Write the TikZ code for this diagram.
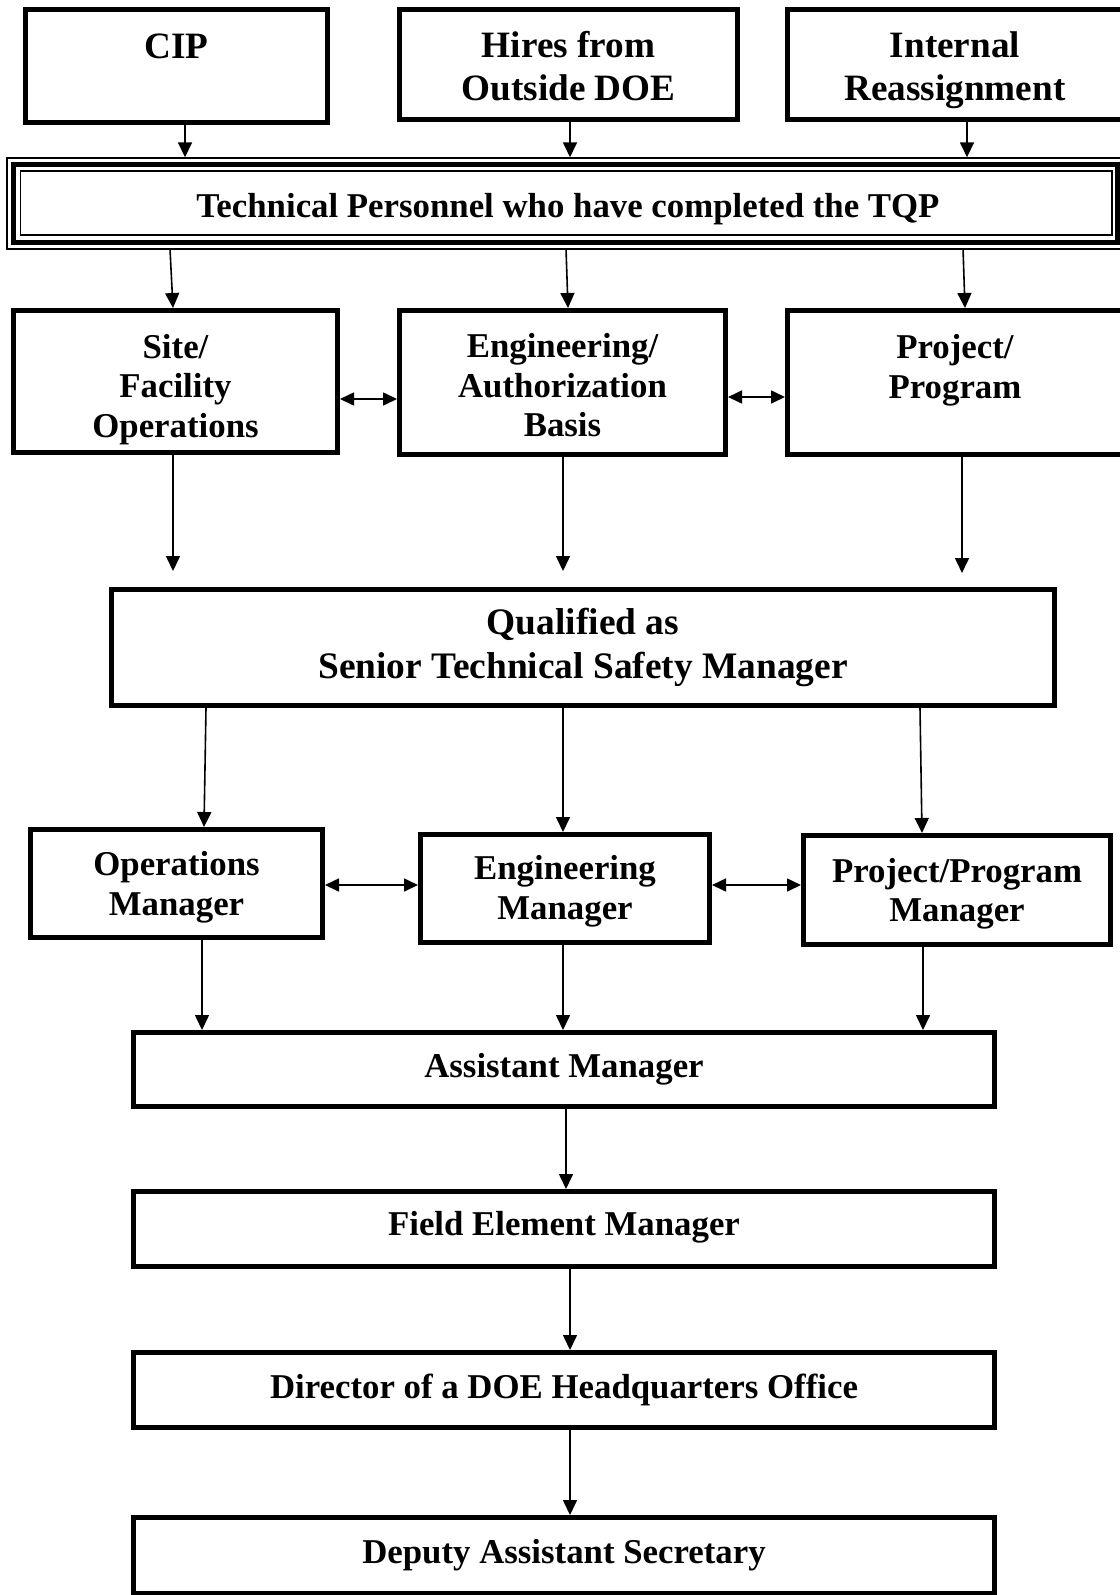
\documentclass[tikz,border=0pt]{standalone}
\usepackage{fontspec}
\setmainfont{Liberation Serif}
\usetikzlibrary{arrows.meta}
\newcommand\lo[2]{\raisebox{-#1}[\height][\depth]{#2}}
\begin{document}
\begin{tikzpicture}[x=0.5pt,y=-0.5pt,
  box/.style={draw, line width=2.5pt, align=center, inner sep=0pt,
    font=\bfseries\fontsize{17.4}{21}\selectfont},
  toprow/.style={font=\bfseries\fontsize{18.6}{21.5}\selectfont},
  rowtwo/.style={font=\bfseries\fontsize{17.4}{19.8}\selectfont},
  quals/.style={font=\bfseries\fontsize{18.7}{22}\selectfont},
  thinbox/.style={draw, line width=0.8pt, inner sep=0pt},
  arr/.style={line width=0.8pt, -{Triangle[length=7.5pt,width=7pt]}},
  dbl/.style={line width=0.8pt, {Triangle[length=7pt,width=6.5pt]}-{Triangle[length=7pt,width=6.5pt]}}]
\useasboundingbox (0,0) rectangle (1119,1595);
% top row
\node[box, toprow, minimum width=151pt, minimum height=56.5pt] (cip) at (176.5,66) {\lo{1pt}{CIP}\\\mbox{}};
\node[box, toprow, minimum width=169pt, minimum height=55pt] (hires) at (568.5,64.5) {\lo{0.8pt}{Hires from}\\\lo{0.8pt}{Outside DOE}};
\node[box, toprow, minimum width=167.5pt, minimum height=55pt] (intern) at (955,64.5) {\lo{2.8pt}{Internal}\\\lo{2.8pt}{Reassignment}};
% TQP triple border
\node[thinbox, minimum width=558pt, minimum height=45.5pt] (tqpo) at (565.25,203.6) {};
\node[box, minimum width=551.75pt, minimum height=39pt] (tqp) at (565.25,203) {\lo{3pt}{\hspace*{2.7pt}Technical Personnel who have completed the TQP}};
\node[thinbox, minimum width=545.75pt, minimum height=32pt] (tqpi) at (566.25,203) {};
% second row
\node[box, rowtwo, minimum width=162pt, minimum height=71pt] (site) at (175.5,381.5) {\lo{4pt}{Site/}\\\lo{4pt}{Facility}\\\lo{4pt}{Operations}};
\node[box, rowtwo, minimum width=163pt, minimum height=72pt] (eng) at (562.5,382.5) {\lo{1.3pt}{Engineering/}\\\lo{1.3pt}{Authorization}\\\lo{1.3pt}{Basis}};
\node[box, rowtwo, minimum width=167.5pt, minimum height=72pt] (proj) at (955,382.5) {\lo{1.8pt}{Project/}\\\lo{1.8pt}{Program}\\\mbox{}};
% qualified
\node[box, quals, minimum width=471.5pt, minimum height=58pt] (qual) at (583,647.5) {Qualified as\\Senior Technical Safety Manager};
% managers
\node[box, rowtwo, minimum width=146pt, minimum height=54pt] (ops) at (176.5,883.5) {\lo{2pt}{Operations}\\\lo{2pt}{Manager}};
\node[box, rowtwo, minimum width=144.5pt, minimum height=54pt] (engm) at (565,888.5) {\lo{1.3pt}{Engineering}\\\lo{1.3pt}{Manager}};
\node[box, rowtwo, minimum width=153.5pt, minimum height=54.5pt] (ppm) at (957,890) {\lo{1.8pt}{Project/Program}\\\lo{1.8pt}{Manager}};
% bottom chain
\node[box, minimum width=430.5pt, minimum height=37pt] (am) at (564,1069.5) {Assistant Manager};
\node[box, minimum width=430.5pt, minimum height=37.5pt] (fem) at (564,1229) {\lo{-1pt}{Field Element Manager}};
\node[box, minimum width=430.5pt, minimum height=37.5pt] (dir) at (564,1390) {Director of a DOE Headquarters Office};
\node[box, minimum width=430.5pt, minimum height=37.75pt] (dep) at (564,1555.25) {Deputy Assistant Secretary};
% free ends
\coordinate (f1) at (173,571);
\coordinate (f2) at (563,571);
\coordinate (f3) at (962,573);
% arrows top row -> TQP
\draw[arr] ([xshift=4.25pt]cip.south) -- ([xshift=4.25pt]cip.south |- tqpo.north);
\draw[arr] ([xshift=0.75pt]hires.south) -- ([xshift=0.75pt]hires.south |- tqpo.north);
\draw[arr] ([xshift=6pt]intern.south) -- ([xshift=6pt]intern.south |- tqpo.north);
% TQP -> second row
\draw[arr] ([xshift=-197.6pt]tqpo.south) -- ([xshift=-1.25pt]site.north);
\draw[arr] ([xshift=0.4pt]tqpo.south) -- ([xshift=2.75pt]eng.north);
\draw[arr] ([xshift=198.9pt]tqpo.south) -- ([xshift=5pt]proj.north);
% horizontal double arrows row 2
\draw[dbl] ([yshift=-8.75pt]site.east) -- ([yshift=-8.75pt]site.east -| eng.west);
\draw[dbl] ([yshift=-7.25pt]eng.east) -- ([yshift=-7.25pt]eng.east -| proj.west);
% second row -> free ends
\draw[arr] (site.south -| f1) -- (f1);
\draw[arr] (eng.south -| f2) -- (f2);
\draw[arr] (proj.south -| f3) -- (f3);
% qualified -> managers
\draw[arr] ([xshift=-188.5pt]qual.south) -- ([xshift=13.75pt]ops.north);
\draw[arr] ([xshift=-10pt]qual.south) -- ([xshift=-1pt]engm.north);
\draw[arr] ([xshift=168.5pt]qual.south) -- ([xshift=-17.5pt]ppm.north);
% managers double arrows
\draw[dbl] ([yshift=-0.75pt]ops.east) -- ([yshift=-0.75pt]ops.east -| engm.west);
\draw[dbl] ([yshift=1.75pt]engm.east) -- ([yshift=1.75pt]engm.east -| ppm.west);
% managers -> assistant manager
\draw[arr] ([xshift=12.75pt]ops.south) -- ([xshift=12.75pt]ops.south |- am.north);
\draw[arr] ([xshift=-1pt]engm.south) -- ([xshift=-1pt]engm.south |- am.north);
\draw[arr] ([xshift=-17pt]ppm.south) -- ([xshift=-17pt]ppm.south |- am.north);
% chain
\draw[arr] ([xshift=1pt]am.south) -- ([xshift=1pt]fem.north);
\draw[arr] ([xshift=3pt]fem.south) -- ([xshift=3pt]dir.north);
\draw[arr] ([xshift=3pt]dir.south) -- ([xshift=3pt]dep.north);
\end{tikzpicture}
\end{document}
